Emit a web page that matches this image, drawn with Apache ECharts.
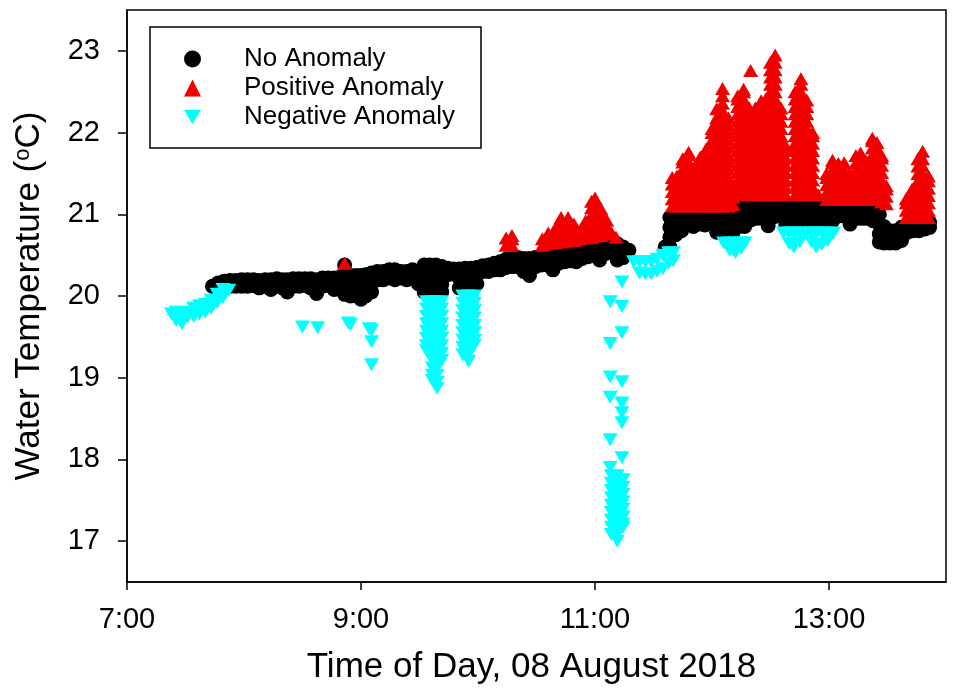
<!DOCTYPE html>
<html>
<head>
<meta charset="utf-8">
<script src="https://cdn.jsdelivr.net/npm/echarts@6/dist/echarts.min.js"></script>
<style>
html,body{margin:0;padding:0;background:#fff;}
#chart{width:957px;height:695px;}
</style>
</head>
<body>
<div id="chart"></div>
<script>
// Time in decimal hours of 08 Aug 2018; each entry: [time, temperature readings (°C)...]
const noAnomalyCols = [
  [7.73, 20.12], [7.78, 20.16, 20.06], [7.83, 20.18, 20.1], [7.88, 20.19, 20.12], [7.93, 20.19, 20.12],
  [7.98, 20.2, 20.12], [8.03, 20.2, 20.12], [8.08, 20.2, 20.13], [8.13, 20.19, 20.1], [8.18, 20.2, 20.12],
  [8.23, 20.2, 20.08], [8.28, 20.21, 20.12], [8.33, 20.2, 20.1], [8.37, 20.2, 20.05], [8.42, 20.21, 20.12],
  [8.47, 20.21, 20.12], [8.52, 20.21, 20.13], [8.57, 20.21, 20.1], [8.62, 20.2, 20.03], [8.67, 20.22, 20.12],
  [8.72, 20.22, 20.13], [8.77, 20.22, 20.12, 20.08], [8.82, 20.23, 20.1], [8.86, 20.38, 20.25, 20.12, 20.02],
  [8.91, 20.25, 20.12, 20.0], [8.96, 20.25, 20.12, 20.0], [9.0, 20.25, 20.1, 19.96], [9.04, 20.26, 20.12, 20.0],
  [9.09, 20.28, 20.15, 20.05], [9.14, 20.3, 20.2], [9.19, 20.3, 20.2], [9.24, 20.32, 20.22], [9.29, 20.32, 20.2],
  [9.34, 20.3, 20.22], [9.39, 20.3, 20.2], [9.44, 20.32, 20.22], [9.49, 20.3, 20.2, 20.15],
  [9.54, 20.38, 20.26, 20.14, 20.05], [9.59, 20.38, 20.26, 20.14, 20.05], [9.64, 20.38, 20.26, 20.14, 20.05],
  [9.69, 20.36, 20.26, 20.14, 20.05], [9.74, 20.34, 20.26], [9.79, 20.33, 20.27], [9.84, 20.33, 20.22, 20.1],
  [9.89, 20.34, 20.22, 20.1], [9.94, 20.34, 20.22, 20.1], [9.99, 20.35, 20.25, 20.15], [10.04, 20.37, 20.3],
  [10.09, 20.38, 20.3], [10.14, 20.4, 20.32], [10.19, 20.42, 20.32], [10.24, 20.45, 20.35], [10.29, 20.46, 20.36],
  [10.34, 20.47, 20.36], [10.39, 20.46, 20.3], [10.44, 20.46, 20.33, 20.25], [10.49, 20.47, 20.36],
  [10.54, 20.47, 20.38], [10.59, 20.5, 20.38], [10.64, 20.52, 20.32], [10.69, 20.52, 20.4], [10.74, 20.54, 20.42],
  [10.79, 20.55, 20.43], [10.84, 20.56, 20.42], [10.89, 20.58, 20.46], [10.94, 20.59, 20.48], [10.99, 20.6, 20.5],
  [11.04, 20.62, 20.52, 20.44], [11.09, 20.64, 20.52], [11.14, 20.66, 20.54], [11.19, 20.64, 20.5, 20.44],
  [11.24, 20.6, 20.47], [11.29, 20.56], [11.6, 20.6], [11.64, 20.96, 20.84, 20.72, 20.6],
  [11.69, 20.97, 20.85, 20.75], [11.74, 20.97, 20.85, 20.8], [11.79, 20.98, 20.88], [11.84, 20.98, 20.85],
  [11.89, 20.99, 20.88], [11.94, 21.0, 20.87], [11.99, 21.0, 20.9], [12.04, 21.01, 20.88, 20.78],
  [12.09, 21.02, 20.9, 20.8], [12.14, 21.02, 20.9, 20.8], [12.18, 21.02, 20.9, 20.78], [12.23, 21.08, 20.95, 20.85],
  [12.28, 21.08, 20.95, 20.85], [12.33, 21.08, 20.93], [12.38, 21.1, 20.95], [12.43, 21.1, 20.95],
  [12.48, 21.1, 20.92, 20.86], [12.53, 21.11, 20.97], [12.58, 21.12, 21.0], [12.63, 21.12, 20.98, 20.88],
  [12.68, 21.12, 20.98, 20.9], [12.73, 21.12, 21.0, 20.9], [12.78, 21.12, 21.0, 20.9], [12.83, 21.12, 21.0, 20.9],
  [12.88, 21.12, 21.0, 20.9], [12.93, 21.12, 20.98, 20.88], [12.98, 21.15, 21.02, 20.9], [13.03, 21.15, 21.02, 20.92],
  [13.08, 21.1, 20.98], [13.13, 21.08, 20.98], [13.18, 21.08, 20.95, 20.88], [13.23, 21.06, 20.95],
  [13.28, 21.06, 20.95], [13.33, 21.05, 20.95], [13.38, 21.03, 20.92], [13.43, 21.0, 20.88, 20.76, 20.66],
  [13.47, 20.85, 20.75, 20.65], [13.52, 20.8, 20.7, 20.65], [13.57, 20.8, 20.7, 20.65], [13.62, 20.84, 20.75, 20.68],
  [13.67, 20.88, 20.78], [13.72, 20.88, 20.8], [13.77, 20.88, 20.8], [13.82, 20.88, 20.82], [13.86, 20.9, 20.84]
];

const positiveCols = [
  [8.86, 20.4],
  [10.24, 20.62, 20.71], [10.29, 20.62, 20.7, 20.74],
  [10.55, 20.62, 20.7], [10.6, 20.64, 20.72, 20.77], [10.66, 20.65, 20.74, 20.83],
  [10.71, 20.66, 20.75, 20.84, 20.93, 20.96], [10.77, 20.67, 20.76, 20.85, 20.94, 20.96],
  [10.82, 20.68, 20.77, 20.86, 20.88], [10.87, 20.7, 20.78], [10.92, 20.71, 20.8, 20.89, 20.92],
  [10.97, 20.72, 20.81, 20.9, 20.99, 21.08, 21.16], [11.0, 20.73, 20.82, 20.91, 21.0, 21.09, 21.18, 21.2],
  [11.05, 20.74, 20.83, 20.92, 21.01, 21.07], [11.1, 20.76, 20.85, 20.93], [11.14, 20.78], [11.18, 20.72],
  [11.66, 21.1, 21.19, 21.28, 21.37, 21.45], [11.7, 21.1, 21.19, 21.28, 21.37, 21.47],
  [11.75, 21.1, 21.19, 21.28, 21.37, 21.46, 21.55, 21.64, 21.68],
  [11.8, 21.1, 21.19, 21.28, 21.37, 21.46, 21.55, 21.64, 21.73, 21.76],
  [11.85, 21.1, 21.19, 21.28, 21.37, 21.46, 21.57],
  [11.9, 21.1, 21.19, 21.28, 21.37, 21.46, 21.55, 21.64, 21.7],
  [11.95, 21.1, 21.19, 21.28, 21.37, 21.46, 21.55, 21.64, 21.73, 21.8],
  [12.0, 21.1, 21.19, 21.28, 21.37, 21.46, 21.55, 21.64, 21.73, 21.82, 21.91, 22.0, 22.05],
  [12.04, 21.1, 21.19, 21.28, 21.37, 21.46, 21.55, 21.64, 21.73, 21.82, 21.91, 22.0, 22.09, 22.18, 22.29],
  [12.09, 21.1, 21.19, 21.28, 21.37, 21.46, 21.55, 21.64, 21.73, 21.82, 21.91, 22.0, 22.09, 22.18, 22.27, 22.36, 22.45, 22.54],
  [12.14, 21.1, 21.19, 21.28, 21.37, 21.46, 21.55, 21.64, 21.73, 21.82, 21.91, 22.0, 22.09, 22.18],
  [12.18, 21.12, 21.21, 21.31],
  [12.22, 21.24, 21.33, 21.42, 21.51, 21.6, 21.69, 21.78, 21.87, 21.96, 22.05, 22.14, 22.23, 22.32, 22.41, 22.45],
  [12.27, 21.24, 21.33, 21.42, 21.51, 21.6, 21.69, 21.78, 21.87, 21.96, 22.05, 22.14, 22.23, 22.32, 22.41, 22.5, 22.53],
  [12.32, 21.24, 21.33, 21.42, 21.51, 21.6, 21.69, 21.78, 21.87, 21.96, 22.05, 22.14, 22.23, 22.3],
  [12.33, 22.76],
  [12.37, 21.24, 21.33, 21.42, 21.51, 21.6, 21.69, 21.78, 21.87, 21.96, 22.05, 22.14, 22.23, 22.3],
  [12.42, 21.24, 21.33, 21.42, 21.51, 21.6, 21.69, 21.78, 21.87, 21.96, 22.05, 22.14, 22.23, 22.32, 22.39],
  [12.46, 21.24, 21.33, 21.42, 21.51, 21.6, 21.69, 21.78, 21.87, 21.96, 22.05, 22.14, 22.23, 22.32, 22.41],
  [12.5, 21.24, 21.33, 21.42, 21.51, 21.6, 21.69, 21.78, 21.87, 21.96, 22.05, 22.14, 22.23, 22.32, 22.41, 22.5, 22.59, 22.68, 22.77, 22.86],
  [12.54, 21.24, 21.33, 21.42, 21.51, 21.6, 21.69, 21.78, 21.87, 21.96, 22.05, 22.14, 22.23, 22.32, 22.41, 22.5, 22.59, 22.68, 22.77, 22.86, 22.95],
  [12.59, 21.24, 21.33, 21.42, 21.51, 21.6, 21.69, 21.78, 21.87, 21.96, 22.05, 22.14, 22.23, 22.3],
  [12.63, 21.24, 21.33, 21.42, 21.51, 21.6, 21.69, 21.78, 21.84],
  [12.71, 21.24, 21.33, 21.42, 21.51, 21.6, 21.69, 21.78, 21.87, 21.96, 22.05, 22.14, 22.23, 22.32, 22.41, 22.5],
  [12.76, 21.24, 21.33, 21.42, 21.51, 21.6, 21.69, 21.78, 21.87, 21.96, 22.05, 22.14, 22.23, 22.32, 22.41, 22.5, 22.59, 22.66],
  [12.81, 21.24, 21.33, 21.42, 21.51, 21.6, 21.69, 21.78, 21.87, 21.96, 22.05, 22.14, 22.23, 22.32, 22.4],
  [12.86, 21.24, 21.33, 21.42, 21.51, 21.6, 21.69, 21.78, 21.87, 21.96, 22.0],
  [12.91, 21.24],
  [12.98, 21.18, 21.27, 21.36, 21.45, 21.5], [13.03, 21.18, 21.27, 21.36, 21.45, 21.54, 21.63, 21.66],
  [13.08, 21.18, 21.27, 21.36, 21.45, 21.54, 21.62], [13.13, 21.18, 21.27, 21.36, 21.45, 21.54, 21.63],
  [13.18, 21.18, 21.27, 21.36, 21.45, 21.51], [13.23, 21.18, 21.27, 21.36, 21.45, 21.54, 21.63, 21.72],
  [13.27, 21.18, 21.27, 21.36, 21.45, 21.54, 21.63, 21.72, 21.75], [13.32, 21.18, 21.27, 21.36, 21.45, 21.54, 21.63, 21.65],
  [13.37, 21.18, 21.27, 21.36, 21.45, 21.54, 21.63, 21.72, 21.81, 21.9, 21.93],
  [13.41, 21.18, 21.27, 21.36, 21.45, 21.54, 21.63, 21.72, 21.81, 21.88],
  [13.45, 21.15, 21.24, 21.33, 21.42, 21.51, 21.6, 21.69, 21.72], [13.49, 21.13, 21.22, 21.31, 21.35],
  [13.66, 20.96, 21.05, 21.14, 21.19], [13.71, 20.96, 21.05, 21.14, 21.23, 21.31],
  [13.76, 20.96, 21.05, 21.14, 21.23, 21.32, 21.41, 21.5, 21.59, 21.68],
  [13.8, 20.96, 21.05, 21.14, 21.23, 21.32, 21.41, 21.5, 21.59, 21.68, 21.77],
  [13.85, 20.96, 21.05, 21.14, 21.23, 21.32, 21.41, 21.47]
];

const negativeCols = [
  [7.38, 19.78], [7.42, 19.8, 19.7], [7.47, 19.78, 19.66], [7.52, 19.8, 19.75], [7.57, 19.85, 19.75],
  [7.62, 19.88, 19.78], [7.67, 19.9, 19.8], [7.72, 19.95, 19.85], [7.77, 20.02, 19.92], [7.82, 20.08, 19.98],
  [7.87, 20.07],
  [8.5, 19.62], [8.63, 19.61], [8.89, 19.67], [8.91, 19.65], [9.07, 19.6], [9.09, 19.58, 19.44, 19.16],
  [9.56, 19.93, 19.84, 19.75, 19.66, 19.57, 19.48, 19.39, 19.33],
  [9.61, 19.93, 19.84, 19.75, 19.66, 19.57, 19.48, 19.39, 19.3, 19.21, 19.12, 19.03, 18.97],
  [9.65, 19.93, 19.84, 19.75, 19.66, 19.57, 19.48, 19.39, 19.3, 19.21, 19.12, 19.03, 18.94, 18.87],
  [9.69, 19.93, 19.84, 19.75, 19.66, 19.57, 19.48, 19.39, 19.3, 19.21],
  [9.87, 20.0, 19.91, 19.82, 19.73, 19.64, 19.55, 19.46, 19.37, 19.28],
  [9.92, 20.0, 19.91, 19.82, 19.73, 19.64, 19.55, 19.46, 19.37, 19.28, 19.2],
  [9.97, 20.0, 19.91, 19.82, 19.73, 19.64, 19.55, 19.46, 19.4],
  [11.13, 19.93, 19.42, 19.01, 18.76, 18.24, 17.9],
  [11.23, 20.17, 19.87, 19.55, 18.95, 18.69, 18.57, 18.45, 18.02],
  [11.14, 17.8, 17.71, 17.62, 17.53, 17.44, 17.35, 17.26, 17.17, 17.08],
  [11.19, 17.8, 17.71, 17.62, 17.53, 17.44, 17.35, 17.26, 17.17, 17.08, 17.0],
  [11.24, 17.75, 17.66, 17.57, 17.48, 17.39, 17.3, 17.21, 17.17],
  [11.33, 20.42], [11.38, 20.42, 20.28], [11.43, 20.42, 20.27], [11.48, 20.42, 20.27], [11.53, 20.45, 20.3],
  [11.58, 20.5, 20.33], [11.63, 20.53, 20.4], [11.67, 20.53, 20.43],
  [12.1, 20.65], [12.15, 20.65, 20.56], [12.2, 20.65, 20.53], [12.25, 20.65, 20.58], [12.28, 20.65],
  [12.61, 20.77], [12.66, 20.77, 20.64], [12.7, 20.77, 20.6], [12.75, 20.77, 20.66], [12.8, 20.77],
  [12.85, 20.77, 20.66], [12.89, 20.77, 20.6], [12.94, 20.77, 20.63], [12.99, 20.77, 20.68], [13.04, 20.77]
];

const xTickValues = [7, 9, 11, 13];
const xTickLabels = ['7:00', '9:00', '11:00', '13:00'];
const yTickValues = [17, 18, 19, 20, 21, 22, 23];
const yTickLabels = ['17', '18', '19', '20', '21', '22', '23'];

const toPoints = cols => cols.flatMap(c => c.slice(1).map(v => [c[0], v]));

const FONT = '"Liberation Sans", Arial, sans-serif';
const downTri = 'path://M0,0 L15,0 L7.5,13 Z';

const chart = echarts.init(document.getElementById('chart'));
chart.setOption({
  animation: false,
  backgroundColor: '#fff',
  textStyle: { fontFamily: FONT, color: '#000' },
  grid: {
    left: 127, right: 11, top: 10, bottom: 113,
    show: true, borderColor: '#000', borderWidth: 1.5, backgroundColor: 'transparent'
  },
  legend: {
    orient: 'vertical',
    left: 150, top: 27,
    padding: [19, 26, 18, 34],
    itemGap: 3,
    itemWidth: 17, itemHeight: 17,
    borderColor: '#000', borderWidth: 1.5,
    itemStyle: { opacity: 1 },
    textStyle: { fontFamily: FONT, fontSize: 26, color: '#000', lineHeight: 26, padding: [0, 0, 0, 38] },
    data: [
      { name: 'No Anomaly', icon: 'circle' },
      { name: 'Positive Anomaly', icon: 'triangle' },
      { name: 'Negative Anomaly', icon: downTri }
    ]
  },
  xAxis: {
    type: 'value', min: 7, max: 14,
    name: 'Time of Day, 08 August 2018',
    nameLocation: 'middle', nameGap: 68,
    nameTextStyle: { fontFamily: FONT, fontSize: 35, color: '#000', padding: [0, 10, 0, 0] },
    axisLine: { show: true, onZero: false, lineStyle: { color: '#000', width: 1.5 } },
    axisTick: { show: true, inside: false, length: 8, customValues: xTickValues, lineStyle: { color: '#000', width: 1.5 } },
    axisLabel: {
      customValues: xTickValues, margin: 23, fontFamily: FONT, fontSize: 29, color: '#000',
      formatter: v => xTickLabels[xTickValues.indexOf(v)]
    },
    splitLine: { show: false }
  },
  yAxis: {
    type: 'value', min: 16.5, max: 23.5,
    name: 'Water Temperature ({sup|o}C)',
    nameLocation: 'middle', nameGap: 80, nameRotate: 90,
    nameTextStyle: {
      fontFamily: FONT, fontSize: 35, color: '#000',
      rich: { sup: { fontFamily: FONT, fontSize: 22, color: '#000', verticalAlign: 'top', padding: [0, 0, 12, 0] } }
    },
    axisLine: { show: true, onZero: false, lineStyle: { color: '#000', width: 1.5 } },
    axisTick: { show: true, inside: false, length: 9, customValues: yTickValues, lineStyle: { color: '#000', width: 1.5 } },
    axisLabel: {
      customValues: yTickValues, margin: 27, fontFamily: FONT, fontSize: 29, color: '#000',
      formatter: v => yTickLabels[yTickValues.indexOf(v)]
    },
    splitLine: { show: false }
  },
  series: [
    {
      name: 'No Anomaly', type: 'scatter', symbol: 'circle', symbolSize: 15,
      itemStyle: { color: '#000000', opacity: 1 }, data: toPoints(noAnomalyCols)
    },
    {
      name: 'Positive Anomaly', type: 'scatter', symbol: 'triangle', symbolSize: [15, 13],
      itemStyle: { color: '#f20000', opacity: 1 }, data: toPoints(positiveCols)
    },
    {
      name: 'Negative Anomaly', type: 'scatter', symbol: downTri, symbolSize: [15, 13],
      itemStyle: { color: '#00ffff', opacity: 1 }, data: toPoints(negativeCols)
    }
  ]
});
</script>
</body>
</html>
